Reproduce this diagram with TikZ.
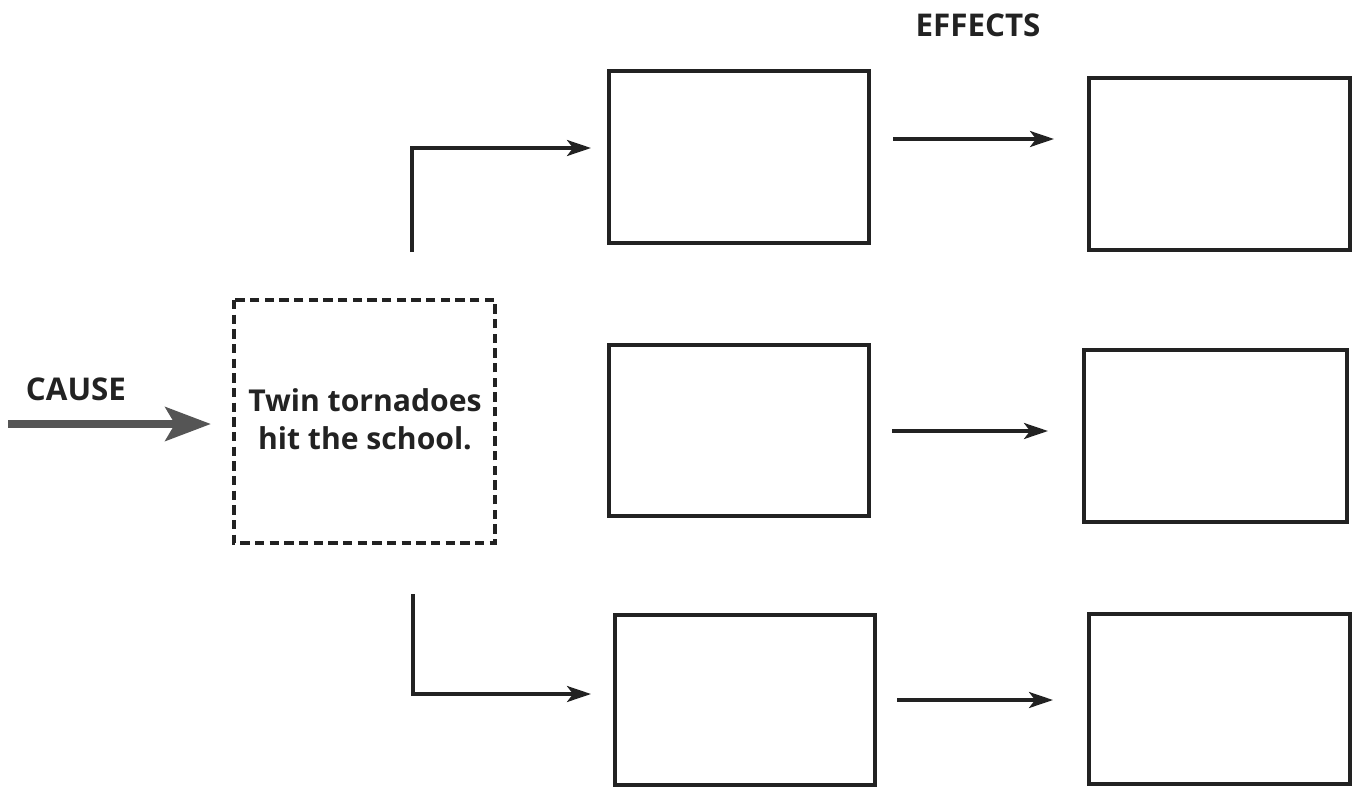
\documentclass[tikz,border=0pt]{standalone}
\usepackage{fontspec}
\setmainfont{Open Sans}
\usetikzlibrary{arrows.meta}
\definecolor{ink}{HTML}{222222}
\definecolor{causegray}{HTML}{555555}
\begin{document}
\begin{tikzpicture}[x=0.75pt,y=-0.75pt,
  effbox/.style={draw=ink,line width=2.4pt,inner sep=0},
  causebox/.style={draw=ink,line width=2.3pt,dash pattern=on 7pt off 4pt},
  conn/.style={draw=ink,line width=2.4pt,-{Stealth[length=18pt,width=12pt,inset=4.5pt]}},
  lbl/.style={text=ink,font=\bfseries\fontsize{23.5}{28}\selectfont}
]
\useasboundingbox (0,0) rectangle (1357,786);
% effect boxes
\draw[effbox] (609,71) rectangle (869,243);
\node (a1) at (739,157) {};
\draw[effbox] (609,345) rectangle (869,516);
\node (a2) at (739,430) {};
\draw[effbox] (615,615) rectangle (875,785);
\node (a3) at (745,700) {};
\draw[effbox] (1089,78) rectangle (1350,250);
\node (b1) at (1219,164) {};
\draw[effbox] (1084,350) rectangle (1347,522);
\node (b2) at (1215,436) {};
\draw[effbox] (1089,614) rectangle (1350,784);
\node (b3) at (1219,699) {};
% cause box
\draw[causebox] (234,300) rectangle (495,543);
\node[align=center,text=ink,font=\bfseries\fontsize{22.6}{28.5}\selectfont] (cause) at (365,419)
  {Twin tornadoes\\hit the school.};
% labels
\node[lbl] (causelbl) at (76,389) {CAUSE};
\node[lbl] (efflbl) at (978,25) {EFFECTS};
% cause arrow
\coordinate (cs) at (8,424);
\coordinate (ce) at (211,424);
\draw[causegray,line width=6.5pt,-{Stealth[length=34pt,width=25pt,inset=7pt]}] (cs) -- (ce);
% elbows
\coordinate (u0) at (412,252);
\coordinate (u1) at (591,148);
\coordinate (d0) at (413,594);
\coordinate (d1) at (591,694);
\draw[conn] (u0) |- (u1);
\draw[conn] (d0) |- (d1);
% horizontal arrows
\coordinate (h1s) at (893,139); \coordinate (h1e) at (1054,139);
\coordinate (h2s) at (892,431); \coordinate (h2e) at (1048,431);
\coordinate (h3s) at (897,700); \coordinate (h3e) at (1053,700);
\draw[conn] (h1s) -- (h1e);
\draw[conn] (h2s) -- (h2e);
\draw[conn] (h3s) -- (h3e);
\end{tikzpicture}
\end{document}
